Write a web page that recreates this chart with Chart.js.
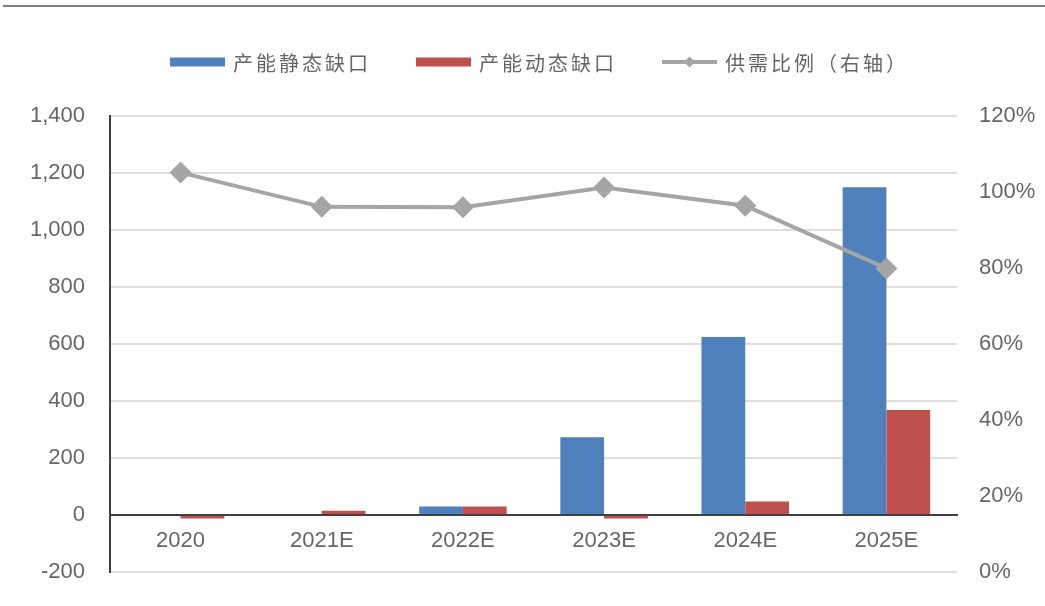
<!DOCTYPE html>
<html>
<head>
<meta charset="utf-8">
<script src="https://cdn.jsdelivr.net/npm/chart.js@4.4.1/dist/chart.umd.min.js"></script>
<style>
  html, body { margin: 0; padding: 0; background: #fff; }
  .wrap { position: relative; width: 1045px; height: 606px; overflow: hidden; }
  .frame-top { position: absolute; left: 3px; right: 0; top: 5px; height: 2px; background: #7f7f7f; }
  canvas { position: absolute; left: 0; top: 0; }
</style>
</head>
<body>
<div class="wrap">
  <div class="frame-top"></div>
  <canvas id="chart" width="1045" height="606"></canvas>
</div>
<script>
// data
const categories = ['2020', '2021E', '2022E', '2023E', '2024E', '2025E'];
const staticGap = [0, 0, 30, 273, 625, 1150];       // 产能静态缺口
const dynamicGap = [-12, 15, 30, -12, 47, 368];     // 产能动态缺口
const supplyRatio = [1.051, 0.961, 0.960, 1.012, 0.964, 0.799]; // 供需比例（右轴）

const leftMin = -200, leftMax = 1400, leftStep = 200;
const rightMin = 0, rightMax = 1.2, rightStep = 0.2;

const textColor = '#666666';
const tickFont = { family: '"Liberation Sans", Arial, sans-serif', size: 22 };

// legend drawn by hand so the wide boxes and the line+diamond match
const topLegend = {
  id: 'topLegend',
  afterDraw(chart) {
    const ctx = chart.ctx;
    const area = chart.chartArea;
    const boxW = 55, gapText = 8, gapItem = 45, y = 62;
    ctx.save();
    ctx.font = '20px "Noto Sans CJK SC", sans-serif';
    ctx.letterSpacing = '3px';
    ctx.textBaseline = 'middle';
    const items = chart.data.datasets.map(ds => ({
      label: ds.label,
      color: ds.type === 'line' ? ds.borderColor : ds.backgroundColor,
      line: ds.type === 'line'
    }));
    const widths = items.map(it => boxW + gapText + ctx.measureText(it.label).width);
    const total = widths.reduce((a, b) => a + b, 0) + gapItem * (items.length - 1);
    let x = (area.left + area.right) / 2 - total / 2 + 6;
    items.forEach((it, i) => {
      if (it.line) {
        ctx.strokeStyle = it.color;
        ctx.lineWidth = 4;
        ctx.beginPath();
        ctx.moveTo(x, y);
        ctx.lineTo(x + boxW, y);
        ctx.stroke();
        const cx = x + boxW / 2, r = 5.5;
        ctx.fillStyle = it.color;
        ctx.beginPath();
        ctx.moveTo(cx - r, y);
        ctx.lineTo(cx, y - r);
        ctx.lineTo(cx + r, y);
        ctx.lineTo(cx, y + r);
        ctx.closePath();
        ctx.fill();
      } else {
        ctx.fillStyle = it.color;
        ctx.fillRect(x, y - 4.5, boxW, 9);
      }
      ctx.fillStyle = textColor;
      ctx.fillText(it.label, x + boxW + gapText, y + 1);
      x += widths[i] + gapItem;
    });
    ctx.restore();
  }
};

// keep the axis boxes to label + padding, and stop them pushing the plot edges
const fixWidth = w => s => {
  s.width = w;
  s.paddingTop = 0;
  s.paddingBottom = 0;
};

const ctx = document.getElementById('chart').getContext('2d');
new Chart(ctx, {
  type: 'bar',
  data: {
    labels: categories,
    datasets: [
      {
        label: '产能静态缺口',
        data: staticGap,
        backgroundColor: '#4f81bd',
        yAxisID: 'y',
        order: 1
      },
      {
        label: '产能动态缺口',
        data: dynamicGap,
        backgroundColor: '#c0504d',
        yAxisID: 'y',
        order: 1
      },
      {
        type: 'line',
        label: '供需比例（右轴）',
        data: supplyRatio,
        borderColor: '#a5a5a5',
        backgroundColor: '#a5a5a5',
        borderWidth: 4,
        pointStyle: 'rectRot',
        pointRadius: 11,
        pointBorderWidth: 0,
        pointBackgroundColor: '#a5a5a5',
        tension: 0,
        yAxisID: 'y1',
        order: 0
      }
    ]
  },
  options: {
    responsive: false,
    animation: false,
    layout: { padding: { top: 116, bottom: 34, left: 30, right: 9 } },
    datasets: {
      bar: { barPercentage: 1, categoryPercentage: 0.62 }
    },
    plugins: {
      legend: { display: false },
      tooltip: { enabled: false }
    },
    scales: {
      x: {
        position: { y: 0 },
        grid: { display: false, drawTicks: false },
        border: { display: true, color: '#404040', width: 2 },
        ticks: { color: textColor, font: tickFont, padding: 13, maxRotation: 0 }
      },
      y: {
        position: 'left',
        min: leftMin,
        max: leftMax,
        grid: { color: '#dedede', lineWidth: 2, drawTicks: false },
        border: { display: true, color: '#404040', width: 2 },
        ticks: {
          stepSize: leftStep,
          color: textColor,
          font: tickFont,
          padding: 25,
          callback: v => v.toLocaleString('en-US')
        },
        afterFit: fixWidth(80)
      },
      y1: {
        position: 'right',
        min: rightMin,
        max: rightMax,
        grid: { drawOnChartArea: false, drawTicks: false },
        border: { display: false },
        ticks: {
          stepSize: rightStep,
          color: textColor,
          font: tickFont,
          padding: 22,
          callback: v => Math.round(v * 100) + '%'
        },
        afterFit: fixWidth(79)
      }
    }
  },
  plugins: [topLegend]
});
</script>
</body>
</html>
